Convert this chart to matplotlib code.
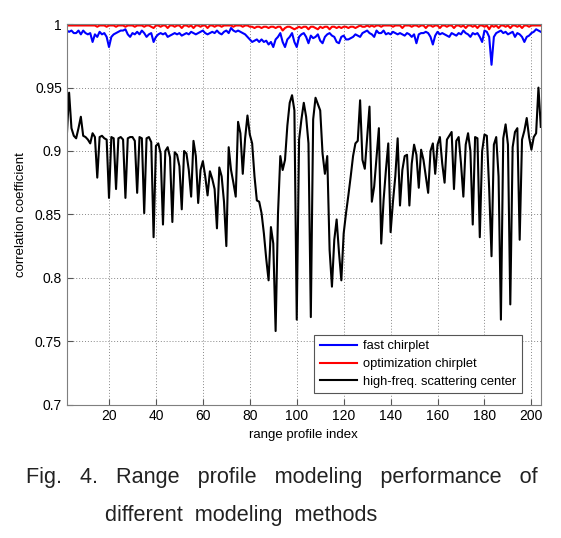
import numpy as np
import matplotlib
matplotlib.use("Agg")
import matplotlib.pyplot as plt

plt.rcParams['font.family'] = ['Liberation Sans', 'DejaVu Sans']

# correlation coefficient per range profile (profiles 2..204)
fast_chirplet = [
    0.995, 0.994, 0.995, 0.993, 0.993, 0.995, 0.992, 0.995, 0.993,
    0.992, 0.993, 0.986, 0.992, 0.990, 0.994, 0.992, 0.993, 0.990, 0.982,
    0.990, 0.992, 0.993, 0.994, 0.995, 0.995, 0.996, 0.992, 0.990, 0.993,
    0.992, 0.994, 0.992, 0.995, 0.993, 0.990, 0.992, 0.993, 0.986, 0.990,
    0.992, 0.993, 0.992, 0.993, 0.990, 0.991, 0.992, 0.993, 0.992, 0.993,
    0.991, 0.992, 0.993, 0.992, 0.994, 0.993, 0.992, 0.993, 0.994, 0.995,
    0.993, 0.992, 0.993, 0.994, 0.993, 0.995, 0.993, 0.992, 0.994, 0.995,
    0.993, 0.997, 0.995, 0.994, 0.995, 0.994, 0.993, 0.992, 0.990, 0.988,
    0.986, 0.987, 0.988, 0.986, 0.988, 0.986, 0.987, 0.984, 0.986, 0.982,
    0.988, 0.990, 0.993, 0.986, 0.982, 0.988, 0.990, 0.993, 0.986, 0.982,
    0.990, 0.992, 0.993, 0.990, 0.985, 0.991, 0.989, 0.990, 0.992, 0.987,
    0.985, 0.990, 0.992, 0.993, 0.991, 0.990, 0.986, 0.985, 0.990, 0.991,
    0.988, 0.988, 0.989, 0.990, 0.992, 0.991, 0.990, 0.993, 0.994, 0.995,
    0.993, 0.992, 0.990, 0.995, 0.993, 0.993, 0.995, 0.992, 0.993, 0.992,
    0.994, 0.993, 0.992, 0.993, 0.992, 0.991, 0.993, 0.992, 0.990, 0.992,
    0.985, 0.992, 0.993, 0.993, 0.994, 0.993, 0.990, 0.984, 0.991, 0.994,
    0.992, 0.993, 0.992, 0.991, 0.990, 0.993, 0.992, 0.991, 0.993, 0.992,
    0.995, 0.993, 0.992, 0.990, 0.993, 0.992, 0.993, 0.990, 0.986, 0.995,
    0.994, 0.990, 0.968, 0.990, 0.993, 0.994, 0.995, 0.993, 0.994, 0.992,
    0.993, 0.994, 0.990, 0.993, 0.992, 0.990, 0.986, 0.990, 0.991, 0.993,
    0.994, 0.996, 0.995, 0.994,
]

optimization_chirplet = [
    0.999, 0.999, 0.999, 0.999, 0.999, 0.999, 0.999, 0.999, 0.999,
    0.999, 0.999, 0.999, 0.999, 0.998, 0.999, 0.999, 0.999, 0.998, 0.999,
    0.999, 0.999, 0.998, 0.999, 0.999, 0.999, 0.998, 0.999, 0.999, 0.999,
    0.998, 0.999, 0.999, 0.999, 0.998, 0.999, 0.999, 0.998, 0.997, 0.999,
    0.999, 0.998, 0.999, 0.999, 0.997, 0.999, 0.999, 0.998, 0.999, 0.999,
    0.997, 0.999, 0.999, 0.998, 0.999, 0.997, 0.999, 0.999, 0.998, 0.999,
    0.999, 0.997, 0.999, 0.999, 0.998, 0.999, 0.999, 0.998, 0.999, 0.999,
    0.999, 0.999, 0.998, 0.999, 0.999, 0.999, 0.998, 0.999, 0.999, 0.998,
    0.998, 0.997, 0.998, 0.998, 0.997, 0.998, 0.998, 0.997, 0.998, 0.998,
    0.997, 0.998, 0.998, 0.995, 0.997, 0.998, 0.998, 0.997, 0.996, 0.997,
    0.998, 0.997, 0.998, 0.998, 0.996, 0.998, 0.998, 0.997, 0.996, 0.998,
    0.997, 0.998, 0.998, 0.996, 0.998, 0.998, 0.997, 0.998, 0.997, 0.998,
    0.998, 0.997, 0.998, 0.998, 0.997, 0.998, 0.999, 0.998, 0.998, 0.999,
    0.998, 0.999, 0.998, 0.999, 0.999, 0.998, 0.999, 0.999, 0.999, 0.999,
    0.998, 0.999, 0.999, 0.999, 0.997, 0.999, 0.999, 0.999, 0.998, 0.999,
    0.999, 0.998, 0.999, 0.999, 0.997, 0.999, 0.999, 0.998, 0.999, 0.999,
    0.997, 0.999, 0.999, 0.998, 0.999, 0.999, 0.997, 0.999, 0.999, 0.998,
    0.999, 0.997, 0.999, 0.999, 0.998, 0.999, 0.997, 0.999, 0.999, 0.998,
    0.999, 0.996, 0.999, 0.998, 0.999, 0.997, 0.999, 0.999, 0.998, 0.999,
    0.997, 0.999, 0.999, 0.998, 0.999, 0.997, 0.999, 0.999, 0.998, 0.999,
    0.999, 0.999, 0.999, 0.999,
]

scattering_center = [
    0.911, 0.946, 0.918, 0.912, 0.910, 0.918, 0.927, 0.912, 0.911,
    0.909, 0.906, 0.914, 0.911, 0.879, 0.911, 0.912, 0.910, 0.909, 0.863,
    0.911, 0.910, 0.870, 0.910, 0.911, 0.909, 0.863, 0.910, 0.911, 0.911,
    0.908, 0.867, 0.911, 0.910, 0.851, 0.910, 0.911, 0.907, 0.832, 0.904,
    0.906, 0.898, 0.842, 0.900, 0.903, 0.895, 0.844, 0.899, 0.897, 0.888,
    0.854, 0.900, 0.898, 0.885, 0.864, 0.908, 0.896, 0.859, 0.885, 0.892,
    0.880, 0.865, 0.884, 0.878, 0.870, 0.839, 0.887, 0.880, 0.860, 0.825,
    0.903, 0.885, 0.875, 0.864, 0.923, 0.914, 0.882, 0.910, 0.928, 0.913,
    0.906, 0.880, 0.861, 0.860, 0.851, 0.835, 0.815, 0.798, 0.840, 0.827,
    0.758, 0.850, 0.896, 0.885, 0.893, 0.920, 0.938, 0.944, 0.932, 0.767,
    0.909, 0.925, 0.938, 0.927, 0.906, 0.769, 0.925, 0.942, 0.937, 0.932,
    0.898, 0.882, 0.896, 0.822, 0.793, 0.830, 0.846, 0.820, 0.798, 0.835,
    0.851, 0.865, 0.880, 0.896, 0.906, 0.908, 0.940, 0.893, 0.886, 0.910,
    0.935, 0.860, 0.872, 0.895, 0.918, 0.827, 0.861, 0.885, 0.906, 0.836,
    0.860, 0.880, 0.910, 0.857, 0.885, 0.896, 0.897, 0.857, 0.890, 0.905,
    0.897, 0.871, 0.901, 0.893, 0.880, 0.867, 0.900, 0.906, 0.882, 0.905,
    0.911, 0.890, 0.875, 0.909, 0.912, 0.915, 0.870, 0.908, 0.911, 0.890,
    0.864, 0.905, 0.914, 0.900, 0.842, 0.911, 0.910, 0.832, 0.900, 0.913,
    0.912, 0.870, 0.817, 0.905, 0.911, 0.880, 0.767, 0.910, 0.921, 0.905,
    0.779, 0.903, 0.915, 0.918, 0.830, 0.909, 0.916, 0.926, 0.911, 0.901,
    0.911, 0.914, 0.950, 0.919,
]

series_labels = ['fast chirplet', 'optimization chirplet', 'high-freq. scattering center']
y_ticks = [0.7, 0.75, 0.8, 0.85, 0.9, 0.95, 1.0]
y_tick_labels = ['0.7', '0.75', '0.8', '0.85', '0.9', '0.95', '1']
x_ticks = [20, 40, 60, 80, 100, 120, 140, 160, 180, 200]

x = np.arange(2, 2 + len(scattering_center))

fig = plt.figure(figsize=(5.61, 5.38), dpi=100)
ax = fig.add_axes([0.119, 0.248, 0.845, 0.707])

ax.plot(x, fast_chirplet, color='#0000ff', lw=1.5, label=series_labels[0])
ax.plot(x, optimization_chirplet, color='#ff0000', lw=1.5, label=series_labels[1])
ax.plot(x, scattering_center, color='black', lw=1.5, label=series_labels[2])

ax.set_xlim(2, 204)
ax.set_ylim(0.7, 1.0)
ax.set_xticks(x_ticks)
ax.set_yticks(y_ticks)
ax.set_yticklabels(y_tick_labels)
ax.tick_params(direction='in', length=4, colors='#555555', labelcolor='black', labelsize=10)
ax.grid(True, linestyle=(0, (1, 2)), color='#888888', linewidth=0.7)
for s in ax.spines.values():
    s.set_color('#7f7f7f')
    s.set_linewidth(0.8)

ax.set_xlabel('range profile index', fontsize=9.5, labelpad=4)
ax.set_ylabel('correlation coefficient', fontsize=9.5, labelpad=6)

leg = ax.legend(loc='lower right', bbox_to_anchor=(0.96, 0.03), borderaxespad=0,
                fontsize=9.3, fancybox=False, framealpha=1, edgecolor='#555555',
                handlelength=2.9, handletextpad=0.5, labelspacing=0.45,
                borderpad=0.4)
leg.get_frame().set_linewidth(0.8)

fig.text(0.5027, 0.113, 'Fig.   4.   Range   profile   modeling   performance   of',
         ha='center', va='center', fontsize=15.6, color='#222222')
fig.text(0.4305, 0.041, 'different  modeling  methods',
         ha='center', va='center', fontsize=15.6, color='#222222')

fig.savefig('out.png', dpi=100)
